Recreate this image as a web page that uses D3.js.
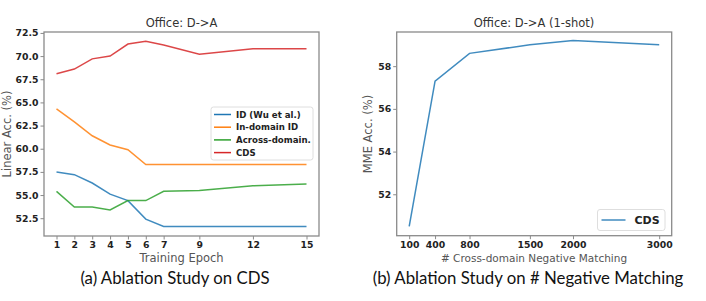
<!DOCTYPE html>
<html>
<head>
<meta charset="utf-8">
<script src="https://cdn.jsdelivr.net/npm/d3@7"></script>
<style>
  html, body { margin: 0; padding: 0; background: #fff; }
  svg { display: block; }
  .tick text { font-family: "DejaVu Sans", sans-serif; font-weight: bold; fill: #222; }
</style>
</head>
<body>
<svg id="sv" width="706" height="301"></svg>
<script>
// (a) ablation on CDS
const epochs = [1, 2, 3, 4, 5, 6, 7, 9, 12, 15];
const seriesNames = ["ID (Wu et al.)", "In-domain ID", "Across-domain.", "CDS"];
const idWu = [57.5, 57.2, 56.3, 55.1, 54.4, 52.4, 51.6, 51.6, 51.6, 51.6];
const inDomain = [64.3, 62.9, 61.4, 60.4, 59.9, 58.3, 58.3, 58.3, 58.3, 58.3];
const acrossDomain = [55.4, 53.7, 53.7, 53.4, 54.4, 54.4, 55.4, 55.5, 56.0, 56.2];
const cds = [68.1, 68.6, 69.7, 70.0, 71.3, 71.6, 71.2, 70.2, 70.8, 70.8];
const yTicksA = [52.5, 55.0, 57.5, 60.0, 62.5, 65.0, 67.5, 70.0, 72.5];

// (b) ablation on # negative matching
const negMatch = [100, 400, 800, 1500, 2000, 3000];
const mmeAcc = [50.5, 57.3, 58.6, 59.0, 59.2, 59.0];
const yTicksB = [52, 54, 56, 58];

const colors = ["#1f77b4", "#ff7f0e", "#2ca02c", "#d62728"];
const spine = "#8a8a8a";

const svg = d3.select("#sv");

function frame(g, x, y, xTicks, yTicks, yFmt) {
  const [x0, x1] = x.range(), [y0, y1] = y.range();
  g.append("g").attr("transform", `translate(0,${y0})`)
    .call(d3.axisBottom(x).tickValues(xTicks).tickFormat(d3.format("d")).tickSize(3.5).tickPadding(2).tickSizeOuter(0))
    .call(a => a.select(".domain").remove());
  g.append("g").attr("transform", `translate(${x0},0)`)
    .call(d3.axisLeft(y).tickValues(yTicks).tickFormat(yFmt).tickSize(3.5).tickPadding(2).tickSizeOuter(0))
    .call(a => a.select(".domain").remove());
  g.selectAll(".tick line").attr("stroke", spine);
  g.selectAll(".tick text").attr("font-size", 9.3);
  g.append("rect").attr("x", x0).attr("y", y1).attr("width", x1 - x0).attr("height", y0 - y1)
    .attr("fill", "none").attr("stroke", spine).attr("stroke-width", 1.3);
}

function label(txt, x, y, size, opts = {}) {
  const t = svg.append("text").attr("x", x).attr("y", y).attr("text-anchor", "middle")
    .attr("font-family", opts.family || "DejaVu Sans, sans-serif").attr("font-size", size)
    .attr("fill", opts.fill || "#444").text(txt);
  if (opts.rotate) t.attr("transform", `rotate(-90,${x},${y})`);
  return t;
}

// ---- panel (a)
const xA = d3.scaleLinear().domain([0.3, 15.7]).range([44, 319]);
const yA = d3.scaleLinear().domain([50.58, 72.6]).range([236, 32]);
const gA = svg.append("g");
frame(gA, xA, yA, epochs, yTicksA, d3.format(".1f"));

const line = (x, y, xs) => d3.line().x((d, i) => x(xs[i])).y(d => y(d));
[idWu, inDomain, acrossDomain, cds].forEach((s, k) => {
  gA.append("path").datum(s).attr("fill", "none").attr("stroke", colors[k]).attr("stroke-width", 1.5)
    .attr("stroke-opacity", 0.85).attr("d", line(xA, yA, epochs));
});

const legA = gA.append("g").attr("transform", "translate(211,107)");
legA.append("rect").attr("width", 102).attr("height", 53).attr("rx", 2.5)
  .attr("fill", "#fff").attr("fill-opacity", 0.85).attr("stroke", "#d6d6d6").attr("stroke-width", 0.8);
seriesNames.forEach((n, k) => {
  const yy = 7.5 + k * 12.7;
  legA.append("line").attr("x1", 3).attr("x2", 20).attr("y1", yy).attr("y2", yy)
    .attr("stroke", colors[k]).attr("stroke-width", 1.5);
  legA.append("text").attr("x", 25).attr("y", yy + 3).attr("font-family", "DejaVu Sans, sans-serif")
    .attr("font-weight", "bold").attr("font-size", 8.6).attr("fill", "#222").text(n);
});

label("Office: D->A", 181.5, 27, 11.5, { fill: "#333" });
label("Training Epoch", 181.5, 262, 11.5, { fill: "#555" });
label("Linear Acc. (%)", 11, 134, 11.5, { fill: "#555", rotate: true });
label("(a) Ablation Study on CDS", 175, 284, 16.8, { family: "Lato, sans-serif", fill: "#111" });

// ---- panel (b)
const xB = d3.scaleLinear().domain([-45, 3145]).range([396.7, 671.7]);
const yB = d3.scaleLinear().domain([50.06, 59.6]).range([235.7, 32]);
const gB = svg.append("g");
frame(gB, xB, yB, negMatch, yTicksB, d3.format("d"));

gB.append("path").datum(mmeAcc).attr("fill", "none").attr("stroke", colors[0]).attr("stroke-width", 1.5)
  .attr("stroke-opacity", 0.85).attr("d", line(xB, yB, negMatch));

const legB = gB.append("g").attr("transform", "translate(597.5,209.5)");
legB.append("rect").attr("width", 67.5).attr("height", 21).attr("rx", 2.5)
  .attr("fill", "#fff").attr("fill-opacity", 0.85).attr("stroke", "#d6d6d6").attr("stroke-width", 0.8);
legB.append("line").attr("x1", 4).attr("x2", 28).attr("y1", 10.5).attr("y2", 10.5)
  .attr("stroke", colors[0]).attr("stroke-width", 1.5).attr("stroke-opacity", 0.85);
legB.append("text").attr("x", 37).attr("y", 14.5).attr("font-family", "DejaVu Sans, sans-serif")
  .attr("font-weight", "bold").attr("font-size", 11).attr("fill", "#222").text("CDS");

label("Office: D->A (1-shot)", 534, 27, 11.5, { fill: "#333" });
label("# Cross-domain Negative Matching", 534, 262, 10.5, { fill: "#555" });
label("MME Acc. (%)", 372, 134, 11.5, { fill: "#555", rotate: true });
label("(b) Ablation Study on # Negative Matching", 528, 284, 16.8, { family: "Lato, sans-serif", fill: "#111" });
</script>
</body>
</html>
